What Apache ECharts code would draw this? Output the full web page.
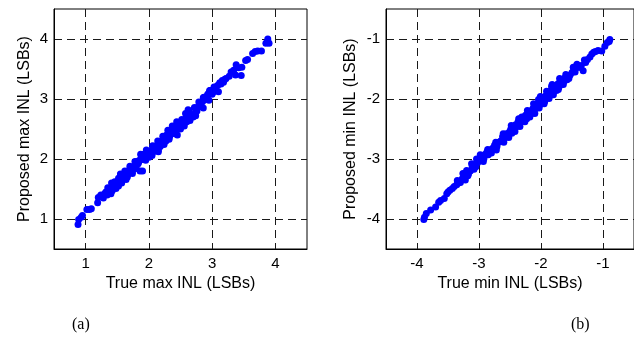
<!DOCTYPE html>
<html>
<head>
<meta charset="utf-8">
<script src="https://cdn.jsdelivr.net/npm/echarts@6/dist/echarts.min.js"></script>
<style>
  html, body { margin: 0; padding: 0; background: #fff; }
  #chart { width: 634px; height: 338px; }
</style>
</head>
<body>
<div id="chart"></div>
<script>
// (a) true vs. proposed maximum INL, in LSBs
const maxTrue = [
  0.88, 0.89, 0.93, 0.95, 1.02, 1.06, 1.09, 1.19, 1.20, 1.24, 1.26, 1.28, 1.30, 1.32, 1.34, 1.36,
  1.38, 1.40, 1.41, 1.42, 1.44, 1.45, 1.47, 1.48, 1.50, 1.52, 1.53, 1.55, 1.56, 1.57, 1.58, 1.60,
  1.61, 1.62, 1.64, 1.65, 1.66, 1.68, 1.70, 1.72, 1.74, 1.76, 1.78, 1.80, 1.81, 1.83, 1.85, 1.86,
  1.90, 1.88, 1.90, 1.92, 1.94, 1.95, 1.97, 1.99, 2.00, 2.02, 2.04, 2.05, 2.07, 2.09, 2.10, 2.12,
  2.13, 2.15, 2.16, 2.18, 2.19, 2.21, 2.22, 2.24, 2.25, 2.27, 2.28, 2.30, 2.32, 2.33, 2.35, 2.36,
  2.38, 2.40, 2.41, 2.43, 2.45, 2.46, 2.48, 2.50, 2.52, 2.54, 2.56, 2.58, 2.60, 2.62, 2.63, 2.64,
  2.66, 2.70, 2.73, 2.76, 2.78, 2.80, 2.82, 2.85, 2.87, 2.89, 2.92, 2.95, 2.97, 3.00, 3.02, 3.04,
  3.09, 3.12, 3.16, 3.18, 3.22, 3.27, 3.30, 3.34, 3.37, 3.38, 3.42, 3.46, 3.47, 3.53, 3.56, 3.64,
  3.68, 3.72, 3.78, 3.85, 3.88, 3.90, 3.88,
  1.43, 1.49, 1.54, 1.59, 1.63, 1.67, 1.71, 1.75, 1.79, 1.84, 1.93, 1.98, 2.03, 2.08, 2.11, 2.14,
  2.17, 2.20, 2.23, 2.26, 2.29, 2.31, 2.34, 2.37, 2.39, 2.42, 2.44, 2.47, 2.49, 2.51, 2.53, 2.57,
  2.61, 2.68, 2.75, 2.83, 2.93, 3.01, 3.06,
  1.35, 1.46, 1.55, 1.62, 1.70, 1.78, 1.87, 1.96, 2.06, 2.14, 2.22, 2.30, 2.37, 2.44, 2.52, 2.58,
  2.64, 2.72, 2.79, 2.86, 2.96, 3.03, 3.14, 3.20,
  1.40, 1.52, 1.64, 1.74, 1.95, 2.05, 2.15, 2.24, 2.32, 2.42, 2.50, 2.56, 2.65, 2.74, 2.86, 2.95,
  3.10
];
const maxProposed = [
  0.91, 0.99, 1.03, 1.06, 1.16, 1.16, 1.17, 1.27, 1.36, 1.40, 1.38, 1.35, 1.42, 1.45, 1.40, 1.48,
  1.44, 1.50, 1.60, 1.47, 1.55, 1.52, 1.58, 1.51, 1.61, 1.68, 1.63, 1.66, 1.72, 1.60, 1.70, 1.74,
  1.67, 1.77, 1.72, 1.79, 1.70, 1.81, 1.78, 1.84, 1.80, 1.86, 1.89, 1.84, 1.96, 1.92, 1.98, 1.80,
  1.80, 2.05, 1.99, 2.08, 2.02, 2.10, 2.05, 2.09, 2.03, 2.12, 2.08, 2.16, 2.12, 2.19, 2.14, 2.22,
  2.18, 2.12, 2.26, 2.21, 2.29, 2.25, 2.32, 2.28, 2.36, 2.30, 2.40, 2.34, 2.44, 2.38, 2.48, 2.42,
  2.52, 2.46, 2.55, 2.49, 2.40, 2.58, 2.52, 2.61, 2.56, 2.64, 2.59, 2.67, 2.62, 2.82, 2.76, 2.66,
  2.72, 2.70, 2.75, 2.80, 2.87, 2.92, 2.88, 2.96, 3.03, 2.99, 3.05, 3.10, 3.14, 3.08, 3.13, 3.17,
  3.23, 3.27, 3.31, 3.28, 3.34, 3.38, 3.45, 3.48, 3.40, 3.57, 3.52, 3.39, 3.53, 3.64, 3.66, 3.76,
  3.79, 3.80, 3.80, 3.93, 3.96, 3.93, 4.00,
  1.52, 1.57, 1.62, 1.68, 1.70, 1.75, 1.77, 1.83, 1.86, 1.95, 2.04, 2.07, 2.10, 2.15, 2.17, 2.20,
  2.23, 2.27, 2.30, 2.33, 2.37, 2.39, 2.41, 2.45, 2.49, 2.51, 2.54, 2.55, 2.57, 2.60, 2.62, 2.65,
  2.70, 2.74, 2.83, 2.94, 3.08, 3.11, 3.20,
  1.52, 1.62, 1.75, 1.80, 1.88, 1.96, 2.08, 2.15, 2.22, 2.30, 2.38, 2.48, 2.55, 2.62, 2.66, 2.76,
  2.80, 2.86, 2.95, 3.02, 3.14, 3.20, 3.25, 3.33,
  1.42, 1.55, 1.66, 1.76, 1.98, 2.06, 2.15, 2.24, 2.33, 2.42, 2.50, 2.55, 2.64, 2.72, 2.85, 2.98,
  3.12
];

// (b) true vs. proposed minimum INL, in LSBs
const minTrue = [
  -3.89, -3.88, -3.85, -3.78, -3.70, -3.62, -3.56, -3.52, -3.47, -3.43, -3.40, -3.36, -3.33, -3.30,
  -3.27, -3.24, -3.22, -3.20, -3.17, -3.14, -3.11, -3.08, -3.06, -3.04, -3.02, -3.00, -2.97, -2.95,
  -2.92, -2.90, -2.87, -2.85, -2.82, -2.78, -2.75, -2.71, -2.68, -2.65, -2.62, -2.59, -2.56, -2.54,
  -2.51, -2.49, -2.47, -2.45, -2.43, -2.41, -2.39, -2.37, -2.35, -2.33, -2.31, -2.29, -2.27, -2.25,
  -2.23, -2.21, -2.19, -2.17, -2.15, -2.13, -2.11, -2.09, -2.07, -2.05, -2.04, -2.02, -2.00, -1.98,
  -1.96, -1.94, -1.92, -1.90, -1.88, -1.86, -1.84, -1.83, -1.81, -1.79, -1.77, -1.75, -1.73, -1.71,
  -1.69, -1.67, -1.65, -1.63, -1.61, -1.58, -1.56, -1.53, -1.50, -1.47, -1.44, -1.40, -1.35, -1.32,
  -1.28, -1.25, -1.21, -1.18, -1.12, -1.08, -1.02, -0.97, -0.93, -0.90, -0.89,
  -3.65, -3.50, -3.35, -3.18, -3.05, -2.93, -2.80, -2.72, -2.60, -2.52, -2.42, -2.34, -2.26, -2.18,
  -2.10, -2.03, -1.95, -1.87, -1.80, -1.72, -1.64, -1.55, -1.45, -1.38,
  -3.26, -3.12, -2.98, -2.86, -2.73, -2.61, -2.48, -2.36, -2.22, -2.12, -2.01, -1.91, -1.82, -1.70,
  -1.60, -1.48, -1.42, -1.30, -1.15
];
const minProposed = [
  -4.01, -3.97, -3.91, -3.85, -3.80, -3.69, -3.66, -3.58, -3.52, -3.49, -3.46, -3.43, -3.40, -3.39,
  -3.33, -3.28, -3.35, -3.19, -3.25, -3.20, -3.14, -3.17, -3.10, -3.00, -3.06, -3.03, -3.00, -2.97,
  -2.99, -2.92, -2.88, -2.93, -2.85, -2.82, -2.77, -2.79, -2.72, -2.70, -2.63, -2.66, -2.58, -2.62,
  -2.55, -2.51, -2.57, -2.47, -2.50, -2.43, -2.46, -2.38, -2.42, -2.35, -2.30, -2.37, -2.32, -2.27,
  -2.33, -2.24, -2.28, -2.20, -2.24, -2.16, -2.20, -2.12, -2.15, -2.07, -2.01, -2.10, -2.03, -2.07,
  -1.98, -2.04, -1.94, -1.98, -1.89, -1.94, -1.86, -1.79, -1.90, -1.84, -1.80, -1.86, -1.75, -1.80,
  -1.70, -1.76, -1.67, -1.71, -1.64, -1.68, -1.61, -1.60, -1.56, -1.51, -1.46, -1.47, -1.44, -1.53,
  -1.39, -1.34, -1.30, -1.25, -1.21, -1.19, -1.20, -1.12, -1.06, -1.04, -1.01,
  -3.72, -3.55, -3.36, -3.28, -3.13, -3.04, -2.90, -2.85, -2.72, -2.64, -2.54, -2.46, -2.38, -2.30,
  -2.24, -2.15, -2.08, -1.99, -1.93, -1.84, -1.76, -1.66, -1.55, -1.47,
  -3.24, -3.08, -2.93, -2.84, -2.72, -2.58, -2.44, -2.33, -2.19, -2.08, -1.96, -1.87, -1.76, -1.66,
  -1.59, -1.47, -1.42, -1.35, -1.22
];

const maxTicks = [1, 2, 3, 4];
const minTicks = [-4, -3, -2, -1];

const pairs = (xs, ys) => xs.map((x, i) => [x, ys[i]]);

const FONT = 'Liberation Sans, Arial, sans-serif';
const gridLine = { show: true, lineStyle: { color: '#1a1a1a', type: [8, 5], width: 1 } };

function valueAxis(min, max, ticks, name, isX) {
  return {
    type: 'value',
    min: min,
    max: max,
    name: name,
    nameLocation: 'middle',
    nameGap: isX ? 26 : 21,
    nameTextStyle: { fontFamily: FONT, fontSize: 16, color: '#000' },
    axisLine: { show: true, onZero: false, lineStyle: { color: '#000', width: 1 } },
    axisTick: { show: false, customValues: ticks },
    axisLabel: { customValues: ticks, fontFamily: FONT, fontSize: 15, color: '#000', margin: isX ? 7 : 6 },
    splitLine: gridLine
  };
}

const chart = echarts.init(document.getElementById('chart'), null, { renderer: 'canvas' });
chart.setOption({
  backgroundColor: '#fff',
  animation: false,
  grid: [
    { left: 54, top: 9, width: 253, height: 240, show: true, borderColor: '#000', borderWidth: 1, backgroundColor: '#fff' },
    { left: 386, top: 9, width: 252, height: 240, show: true, borderColor: '#000', borderWidth: 1, backgroundColor: '#fff' }
  ],
  xAxis: [
    Object.assign(valueAxis(0.5, 4.5, maxTicks, 'True max INL (LSBs)', true), { gridIndex: 0 }),
    Object.assign(valueAxis(-4.5, -0.5, minTicks, 'True min INL (LSBs)', true), { gridIndex: 1 })
  ],
  yAxis: [
    Object.assign(valueAxis(0.5, 4.5, maxTicks, 'Proposed max INL (LSBs)', false), { gridIndex: 0 }),
    Object.assign(valueAxis(-4.5, -0.5, minTicks, 'Proposed min INL (LSBs)', false), { gridIndex: 1, nameGap: 27 })
  ],
  series: [
    {
      type: 'scatter', xAxisIndex: 0, yAxisIndex: 0,
      data: pairs(maxTrue, maxProposed),
      symbolSize: 7, itemStyle: { color: '#0000ff', opacity: 1 }
    },
    {
      type: 'scatter', xAxisIndex: 1, yAxisIndex: 1,
      data: pairs(minTrue, minProposed),
      symbolSize: 7, itemStyle: { color: '#0000ff', opacity: 1 }
    }
  ],
  graphic: [
    { type: 'text', left: 72, top: 317, style: { text: '(a)', font: '16px "Liberation Serif", "Times New Roman", serif', fill: '#000' } },
    { type: 'text', left: 571, top: 317, style: { text: '(b)', font: '16px "Liberation Serif", "Times New Roman", serif', fill: '#000' } }
  ]
});
</script>
</body>
</html>
